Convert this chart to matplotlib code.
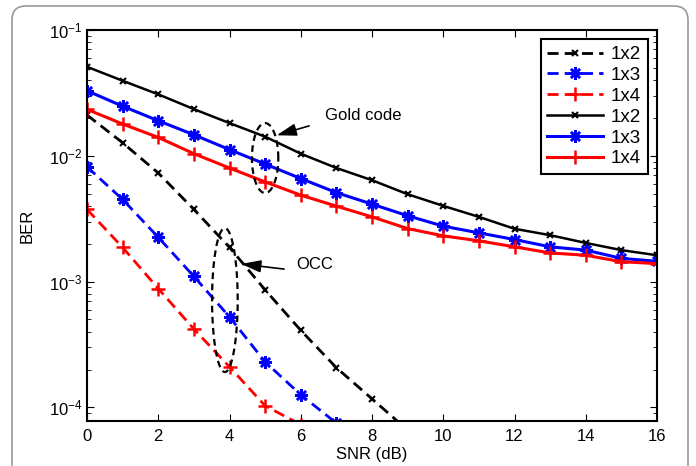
import numpy as np
import matplotlib
matplotlib.use('Agg')
import matplotlib.pyplot as plt
from matplotlib.patches import FancyBboxPatch
import matplotlib.ticker as mtick

plt.rcParams["font.family"] = ["Liberation Sans", "DejaVu Sans"]
plt.rcParams["mathtext.fontset"] = "custom"
plt.rcParams["mathtext.rm"] = "Liberation Sans"

# SNR axis
snr = np.arange(0, 17)

# OCC (dashed) curves
occ_1x2 = [0.0211, 0.0127, 0.0073, 0.00375, 0.00187, 0.00086, 0.00041, 0.000207, 0.000117, 0.000066]
occ_1x3 = [0.00817, 0.0045, 0.00225, 0.00110, 0.000524, 0.00023, 0.000126, 0.000075]
occ_1x4 = [0.00375, 0.00187, 0.00088, 0.00042, 0.00021, 0.000103, 0.000073]

# Gold code (solid) curves
gold_1x2 = [0.051, 0.0395, 0.0308, 0.0235, 0.0182, 0.0142, 0.0104, 0.0080, 0.0064,
            0.00495, 0.0040, 0.00327, 0.00263, 0.00234, 0.00203, 0.00178, 0.00162]
gold_1x3 = [0.0329, 0.0248, 0.0190, 0.0147, 0.0112, 0.0086, 0.0066, 0.0051, 0.00413,
            0.00334, 0.00276, 0.00244, 0.00216, 0.00189, 0.00178, 0.00153, 0.00145]
gold_1x4 = [0.0234, 0.0179, 0.0140, 0.0104, 0.0080, 0.0062, 0.00487, 0.00398, 0.00327,
            0.00264, 0.00231, 0.00211, 0.00189, 0.00169, 0.00162, 0.00144, 0.00139]

labels = ['1x2', '1x3', '1x4', '1x2', '1x3', '1x4']
xticks = [0, 2, 4, 6, 8, 10, 12, 14, 16]

fig = plt.figure(figsize=(6.96, 4.66), dpi=100)
fig.patch.set_facecolor('white')

# rounded grey frame around the figure
frame = FancyBboxPatch((12/696, -0.05), (688-12)/696, 1.05 - 6/466,
                       boxstyle='round,pad=0,rounding_size=0.02',
                       transform=fig.transFigure, fc='none', ec='#999999', lw=1.2,
                       mutation_aspect=696/466)
fig.patches.append(frame)

ax = fig.add_axes([87/696, 45/466, 570/696, 391/466])

dash = (0, (4, 2.2))
star = (8, 2, 0)
ax.plot(snr[:len(occ_1x2)], occ_1x2, color='black', ls=dash, lw=2, marker='x', ms=5, mew=1.5, label=labels[0])
ax.plot(snr[:len(occ_1x3)], occ_1x3, color='blue', ls=dash, lw=2, marker=star, ms=9, mew=1.8, label=labels[1])
ax.plot(snr[:len(occ_1x4)], occ_1x4, color='red', ls=dash, lw=2, marker='+', ms=10, mew=1.8, label=labels[2])
ax.plot(snr, gold_1x2, color='black', ls='-', lw=1.8, marker='x', ms=5, mew=1.5, label=labels[3])
ax.plot(snr, gold_1x3, color='blue', ls='-', lw=2.2, marker=star, ms=9, mew=1.8, label=labels[4])
ax.plot(snr, gold_1x4, color='red', ls='-', lw=2.2, marker='+', ms=10, mew=1.8, label=labels[5])

ax.set_yscale('log')
ax.set_xlim(0, 16)
ax.set_ylim(7.8e-5, 0.1)
ax.set_xticks(xticks)
ax.yaxis.set_major_locator(mtick.LogLocator(base=10, numticks=10))
ax.yaxis.set_minor_locator(mtick.LogLocator(base=10, subs=np.arange(2, 10), numticks=20))
ax.yaxis.set_minor_formatter(mtick.NullFormatter())
ax.tick_params(axis='both', which='both', direction='in', top=True, right=True, labelsize=12)
ax.tick_params(axis='x', which='major', pad=6)
ax.tick_params(axis='both', which='major', length=5)
ax.tick_params(axis='both', which='minor', length=3)
for s in ax.spines.values():
    s.set_linewidth(1.5)

ax.set_xlabel('SNR (dB)', fontsize=12, labelpad=2)
ax.set_ylabel('BER', fontsize=12, labelpad=10)

# dashed ellipses drawn in (x, log10 y) space
t = np.linspace(0, 2*np.pi, 200)
def log_ellipse(cx, cy, a, b):
    return cx + a*np.cos(t), 10**(cy + b*np.sin(t))

ex, ey = log_ellipse(5.0, -2.018, 0.37, 0.278)
ax.plot(ex, ey, color='black', ls=(0, (3, 2)), lw=1.6)
ex, ey = log_ellipse(3.87, -3.147, 0.36, 0.572)
ax.plot(ex, ey, color='black', ls=(0, (3, 2)), lw=1.6)

ax.annotate('', xy=(5.25, 0.01435), xytext=(6.31, 0.01754),
            arrowprops=dict(arrowstyle='-|>,head_length=0.8,head_width=0.25', color='black', lw=1.2, mutation_scale=15))
ax.text(6.69, 0.0211, 'Gold code', fontsize=12, va='center', ha='left')
ax.annotate('', xy=(4.25, 0.00139), xytext=(5.61, 0.00125),
            arrowprops=dict(arrowstyle='-|>,head_length=0.8,head_width=0.25', color='black', lw=1.2, mutation_scale=15))
ax.text(5.86, 0.00137, 'OCC', fontsize=12, va='center', ha='left')

leg = ax.legend(loc='upper right', fontsize=13.5, framealpha=1, fancybox=False,
                edgecolor='black', handlelength=3.0, borderaxespad=0.5,
                labelspacing=0.2, handletextpad=0.4, borderpad=0.35)
leg.get_frame().set_linewidth(1.5)

plt.savefig('out.png', dpi=100)
